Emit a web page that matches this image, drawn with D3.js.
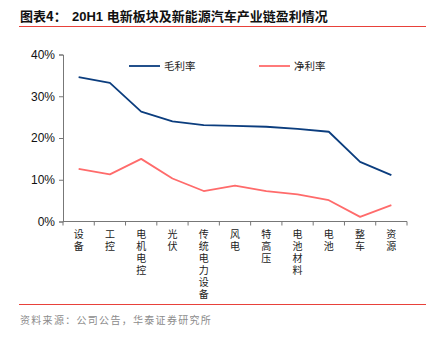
<!DOCTYPE html>
<html>
<head>
<meta charset="utf-8">
<script src="https://cdn.jsdelivr.net/npm/d3@7"></script>
<style>
  body { margin: 0; background: #fff; }
  svg { display: block; }
</style>
</head>
<body>
<div id="chart"></div>
<script>
// 行业类别与两条利润率序列（%）
const categories = ['设备', '工控', '电机电控', '光伏', '传统电力设备', '风电', '特高压', '电池材料', '电池', '整车', '资源'];
const grossMargin = [34.6, 33.2, 26.3, 24.0, 23.1, 22.9, 22.7, 22.2, 21.5, 14.3, 11.1];
const netMargin = [12.6, 11.3, 15.0, 10.3, 7.3, 8.6, 7.3, 6.5, 5.1, 1.1, 3.9];
const yTicks = [0, 10, 20, 30, 40];

const W = 432, H = 338;
const plot = { left: 63, right: 407, top: 54.5, bottom: 221.5 };
const cjk = '"Noto Sans CJK SC", sans-serif';

const svg = d3.select('#chart').append('svg')
    .attr('width', W)
    .attr('height', H);

// 标题与上下分隔线
const title = svg.append('text')
    .attr('x', 20)
    .attr('y', 21)
    .attr('font-family', cjk)
    .attr('font-size', 13)
    .attr('font-weight', 'bold')
    .attr('fill', '#111');
title.append('tspan').text('图表4：');
title.append('tspan')
    .attr('x', 72)
    .attr('font-family', 'Liberation Sans, Arial, sans-serif')
    .text('20H1 ');
title.append('tspan').text('电新板块及新能源汽车产业链盈利情况');

svg.append('line')
    .attr('x1', 19).attr('x2', 426)
    .attr('y1', 26.5).attr('y2', 26.5)
    .attr('stroke', '#e8413a')
    .attr('stroke-width', 1);

svg.append('line')
    .attr('x1', 19).attr('x2', 426)
    .attr('y1', 304.5).attr('y2', 304.5)
    .attr('stroke', '#e8413a')
    .attr('stroke-width', 1);

svg.append('text')
    .attr('x', 20)
    .attr('y', 324)
    .attr('font-family', cjk)
    .attr('font-size', 10)
    .attr('letter-spacing', 1.3)
    .attr('fill', '#8c8c8c')
    .text('资料来源：公司公告，华泰证券研究所');

const x = d3.scaleBand()
    .domain(categories)
    .range([plot.left, plot.right]);

const y = d3.scaleLinear()
    .domain([0, 40])
    .range([plot.bottom, plot.top]);

// y 轴
const yAxis = svg.append('g')
    .attr('transform', `translate(${plot.left},0)`)
    .call(d3.axisLeft(y).tickValues(yTicks).tickSize(4).tickPadding(4).tickFormat(d => d + '%'));
yAxis.selectAll('text')
    .attr('font-family', 'Liberation Sans, Arial, sans-serif')
    .attr('font-size', 12)
    .attr('fill', '#111');
yAxis.select('.domain').attr('stroke', '#777');
yAxis.selectAll('.tick line').attr('stroke', '#777');

// x 轴：刻度在类别边界
const xAxis = svg.append('g')
    .attr('transform', `translate(0,${plot.bottom})`);
xAxis.append('line')
    .attr('x1', plot.left).attr('x2', plot.right)
    .attr('stroke', '#777');
const bounds = categories.map(c => x(c)).concat([plot.right]);
xAxis.selectAll('line.tick')
    .data(bounds)
    .enter()
    .append('line')
    .attr('class', 'tick')
    .attr('x1', d => d).attr('x2', d => d)
    .attr('y1', 0).attr('y2', 4)
    .attr('stroke', '#777');

// 竖排类别标签，逐字一行
const labels = xAxis.selectAll('text.cat')
    .data(categories)
    .enter()
    .append('text')
    .attr('class', 'cat')
    .attr('text-anchor', 'middle')
    .attr('font-family', cjk)
    .attr('font-size', 10)
    .attr('fill', '#222');
labels.each(function(d) {
    const t = d3.select(this);
    const cx = x(d) + x.bandwidth() / 2;
    d.split('').forEach((ch, i) => {
        t.append('tspan')
            .attr('x', cx)
            .attr('y', 16 + i * 12)
            .text(ch);
    });
});

const cx = d => x(d) + x.bandwidth() / 2;
const series = [
    { name: '毛利率', values: grossMargin, color: '#0b3d7e', lx: 129 },
    { name: '净利率', values: netMargin, color: '#ff6b6b', lx: 259 }
];

const line = d3.line()
    .x((v, i) => cx(categories[i]))
    .y(v => y(v));

series.forEach(s => {
    svg.append('path')
        .datum(s.values)
        .attr('fill', 'none')
        .attr('stroke', s.color)
        .attr('stroke-width', 1.8)
        .attr('stroke-linejoin', 'round')
        .attr('d', line);

    // 图例
    svg.append('line')
        .attr('x1', s.lx).attr('x2', s.lx + 31)
        .attr('y1', 66).attr('y2', 66)
        .attr('stroke', s.color)
        .attr('stroke-width', 1.8);
    svg.append('text')
        .attr('x', s.lx + 35)
        .attr('y', 70)
        .attr('font-family', cjk)
        .attr('font-size', 10.5)
        .attr('fill', '#222')
        .text(s.name);
});
</script>
</body>
</html>
